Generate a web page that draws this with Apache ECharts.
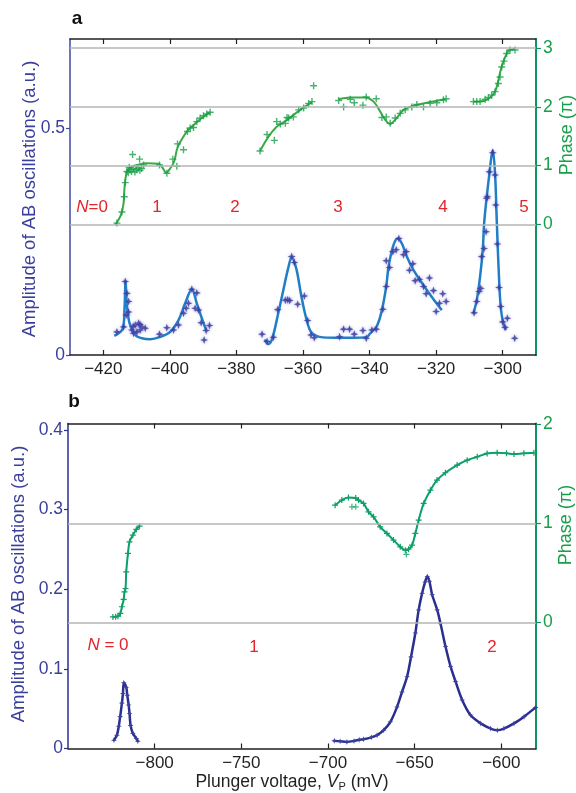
<!DOCTYPE html>
<html>
<head>
<meta charset="utf-8">
<style>html,body{margin:0;padding:0;background:#fff}#main{width:576px;height:793px}</style>
</head>
<body>
<div id="main"></div>
<script src="https://cdn.jsdelivr.net/npm/echarts@6/dist/echarts.min.js"></script>
<script>
// ---- panel a ----
var xTicksA = [-420, -400, -380, -360, -340, -320, -300];
var ampTicksA = [0, 0.5];
var phaseTicksA = [0, 1, 2, 3];
var levelLabelsA = ['{i|N}=0', '1', '2', '3', '4', '5'];

var ampPtsA = [
  [-415.9,0.051],[-413.9,0.062],[-413.4,0.162],[-412.9,0.136],[-412.4,0.118],[-413.1,0.088],[-412.4,0.095],
  [-411.4,0.055],[-410.4,0.066],[-409.4,0.070],[-408.9,0.055],[-410.9,0.048],[-408.4,0.062],[-407.4,0.059],
  [-409.9,0.051],[-411.0,0.063],[-409.0,0.067],[-403.1,0.046],[-400.9,0.060],[-398.9,0.055],[-397.4,0.066],
  [-395.9,0.092],[-395.1,0.103],[-394.4,0.114],[-393.4,0.145],[-391.9,0.137],[-392.4,0.103],[-391.4,0.099],
  [-390.6,0.071],[-389.7,0.033],[-389.1,0.054],[-388.1,0.065],
  [-372.3,0.046],[-370.8,0.030],[-368.9,0.039],[-367.6,0.100],[-365.3,0.121],[-364.6,0.122],[-364.0,0.120],
  [-363.4,0.217],[-362.6,0.204],[-361.6,0.112],[-359.6,0.130],[-358.6,0.076],[-357.6,0.044],[-356.6,0.038],
  [-349.0,0.040],[-347.8,0.057],[-346.0,0.057],[-344.6,0.046],[-342.0,0.054],[-341.0,0.037],[-339.3,0.055],
  [-338.0,0.057],[-336.0,0.101],[-335.0,0.151],[-335.0,0.208],[-334.0,0.193],[-333.0,0.228],[-332.0,0.232],
  [-331.2,0.257],[-329.8,0.221],[-329.0,0.228],[-328.0,0.187],[-327.0,0.201],[-326.3,0.164],[-325.0,0.167],
  [-323.8,0.151],[-323.0,0.135],[-322.0,0.170],[-320.8,0.142],[-320.0,0.096],[-319.0,0.114],[-318.0,0.135],
  [-317.0,0.118],
  [-308.6,0.093],[-307.8,0.118],[-307.1,0.140],[-306.6,0.147],[-306.3,0.217],[-305.6,0.235],[-305.0,0.272],
  [-304.8,0.346],[-304.6,0.349],[-304.0,0.404],[-303.0,0.446],[-302.3,0.397],[-302.1,0.331],[-301.6,0.245],
  [-301.1,0.149],[-300.6,0.107],[-300.0,0.073],[-299.3,0.061],[-298.6,0.081],[-296.4,0.037]
];
var ampFitA1 = [[-416.7,0.042],[-414.1,0.059],[-413.6,0.105],[-413.3,0.163],[-412.9,0.110],[-412.1,0.070],
  [-410.4,0.044],[-408.4,0.037],[-405.9,0.035],[-402.9,0.040],[-399.9,0.051],[-397.4,0.077],[-395.4,0.114],
  [-393.4,0.145],[-391.9,0.114],[-390.4,0.081],[-389.1,0.055]];
var ampFitA2 = [[-371.5,0.034],[-370.5,0.024],[-369.3,0.035],[-367.5,0.090],[-366,0.140],[-364.5,0.190],
  [-363.4,0.215],[-362,0.190],[-360.5,0.130],[-359,0.080],[-357.5,0.050],[-355,0.040],[-350,0.038],[-345,0.038],
  [-340.8,0.040],[-339.8,0.048],[-337.8,0.064],[-336.3,0.099],[-335,0.151],[-334.3,0.195],[-332.8,0.243],
  [-331.5,0.257],[-330.3,0.246],[-328.8,0.217],[-326.8,0.187],[-323.8,0.154],[-320.8,0.123],[-318.3,0.099]];
var ampFitA3 = [[-308.8,0.092],[-307.8,0.121],[-306.8,0.173],[-306,0.232],[-305.5,0.298],[-304.0,0.400],
  [-303,0.452],[-302.3,0.400],[-301.8,0.298],[-301,0.151],[-300.5,0.099],[-299.8,0.070],[-299,0.055]];

var phasePtsA = [
  [-415.9,0.02],[-414.4,0.21],[-413.7,0.47],[-413.4,0.71],[-412.9,0.90],[-412.5,0.88],[-412.0,0.93],[-411.5,0.90],
  [-411.0,0.95],[-410.5,0.89],[-410.0,0.93],[-409.5,0.96],[-409.0,0.92],[-408.5,0.95],[-412.2,0.97],[-411.2,1.19],
  [-409.1,1.11],[-407.9,1.01],[-403.1,1.01],[-400.9,0.87],[-399.1,1.11],[-397.9,0.99],[-397.7,1.37],[-395.9,1.27],
  [-394.7,1.58],[-393.9,1.64],[-392.9,1.65],[-391.9,1.75],[-390.9,1.81],[-389.9,1.85],[-388.9,1.88],[-387.9,1.91],
  [-372.9,1.25],[-370.8,1.53],[-368.6,1.43],[-367.9,1.75],[-366.8,1.71],[-365.3,1.72],[-364.8,1.82],[-364.3,1.81],
  [-362.9,1.83],[-361.3,1.95],[-359.8,1.98],[-358.3,2.06],[-357.3,2.09],[-356.8,2.36],
  [-349.3,2.11],[-347.8,2.00],[-345.8,2.13],[-344.6,2.07],[-342.0,2.03],[-341.0,2.17],[-338.0,2.14],[-336.3,1.82],
  [-335.0,1.83],[-333.8,1.72],[-332.3,1.81],[-330.8,1.89],[-329.3,1.95],[-327.3,2.00],[-325.8,2.04],[-323.8,2.00],
  [-321.8,2.06],[-319.8,2.07],[-317.8,2.12],[-317.0,2.14],
  [-308.8,2.09],[-307.8,2.09],[-306.8,2.09],[-305.3,2.13],[-304.3,2.16],[-303.3,2.20],[-302.3,2.26],[-301.3,2.40],
  [-300.8,2.51],[-300.3,2.68],[-299.6,2.78],[-298.8,2.91],[-297.8,2.97],[-296.3,2.97]
];
var phaseFitA1 = [[-416.4,-0.01],[-414.7,0.16],[-413.9,0.36],[-413.6,0.64],[-412.9,0.90],[-411.9,0.97],
  [-409.9,1.01],[-406.9,1.04],[-403.4,1.03],[-402.4,0.98],[-401.1,0.88],[-399.9,0.95],[-398.7,1.07],
  [-397.9,1.27],[-397.1,1.38],[-394.9,1.58],[-392.9,1.69],[-390.9,1.79],[-387.9,1.91]];
var phaseFitA2 = [[-372.9,1.25],[-370.4,1.49],[-367.9,1.66],[-364.8,1.78],[-360.8,1.95],[-357.3,2.08]];
var phaseFitA3 = [[-349.3,2.13],[-345.8,2.16],[-341.3,2.16],[-338.8,2.09],[-336.8,1.92],[-335.3,1.78],
  [-333.8,1.71],[-332.3,1.78],[-329.8,1.95],[-326.8,2.02],[-322.8,2.07],[-317.3,2.13]];
var phaseFitA4 = [[-308.8,2.09],[-305.8,2.10],[-303.8,2.16],[-302.3,2.26],[-301.3,2.46],[-300.6,2.63],
  [-299.6,2.80],[-298.3,2.95],[-296.3,2.99]];

// ---- panel b ----
var xTicksB = [-800, -750, -700, -650, -600];
var ampTicksB = [0, 0.1, 0.2, 0.3, 0.4];
var phaseTicksB = [0, 1, 2];
var levelLabelsB = ['{i|N} = 0', '1', '2'];

var ampB0 = [[-823.5,0.0104],[-821.8,0.0167],[-820.7,0.028],[-819.9,0.040],[-818.9,0.057],[-818.3,0.069],
  [-817.8,0.0825],[-816.4,0.077],[-815.8,0.067],[-815.0,0.0545],[-814.5,0.044],[-813.9,0.029],[-812.6,0.019],
  [-810.6,0.0126],[-809.7,0.009]];
var ampB1 = [[-696.4,0.0096],[-693,0.009],[-689.1,0.0083],[-685,0.0095],[-682,0.011],[-679.5,0.0117],[-675,0.014],
  [-671.7,0.0167],[-667.9,0.023],[-664,0.0335],[-660.2,0.052],[-657.3,0.071],[-654.4,0.090],[-652.1,0.115],
  [-649.6,0.145],[-647.7,0.174],[-645.7,0.195],[-644,0.209],[-642.7,0.216],[-641.5,0.210],[-639.9,0.193],
  [-637,0.174],[-635.1,0.157],[-632.2,0.128],[-629.3,0.103],[-626.4,0.084],[-622.6,0.061],[-617.8,0.042],
  [-611.9,0.0315],[-606.2,0.025],[-602.3,0.023],[-598.5,0.025],[-592.7,0.0315],[-586.9,0.040],[-580.2,0.0516]];
var phaseB0 = [[-824.1,0.058],[-822.5,0.060],[-821.2,0.065],[-819.8,0.093],[-818.9,0.160],[-817.9,0.234],
  [-817.4,0.310],[-816.8,0.344],[-816.4,0.511],[-815.4,0.697],[-814.5,0.814],[-812.6,0.881],[-810.6,0.939],
  [-808.7,0.972]];
var phaseB1 = [[-695.9,1.183],[-692,1.234],[-688.2,1.26],[-684,1.255],[-682.4,1.234],[-679.5,1.20],[-676.6,1.116],
  [-673.7,1.065],[-669.9,0.965],[-666,0.898],[-662.2,0.831],[-658.3,0.763],[-655.4,0.730],[-653.5,0.740],
  [-651.5,0.780],[-649.6,0.898],[-647.7,1.032],[-644.8,1.20],[-640.9,1.334],[-637.1,1.435],[-632.3,1.509],
  [-625.5,1.586],[-619.7,1.636],[-613.9,1.670],[-608.2,1.704],[-602.4,1.710],[-597,1.705],[-592.7,1.697],
  [-587,1.705],[-581.2,1.710]];
var phaseB1Extra = [[-686.2,1.166],[-684,1.166],[-654.8,0.687]];

// ---- styling ----
var FONT = 'Liberation Sans, Arial, Helvetica, sans-serif';
var BLUE_AX = '#3a3f9c', GREEN_AX = '#0e9460', GREEN_TXT = '#17a04b', RED = '#e2262b';
var PLUS = 'path://M-1,-5H1V-1H5V1H1V5H-1V1H-5V-1H-1Z';
var STAR = 'path://M0,-5L1.3,-1.3L5,0L1.3,1.3L0,5L-1.3,1.3L-5,0L-1.3,-1.3Z';
var minus = function (v) { return String(v).replace('-', '\u2212'); };

function xAx(grid, min, max, ticks, pos) {
  return {
    type: 'value', gridIndex: grid, min: min, max: max, position: pos,
    axisLine: {onZero: false, lineStyle: {color: '#231f20', width: 1.5}},
    axisTick: {inside: true, length: 5, customValues: ticks, lineStyle: {color: '#231f20', width: 1.2}},
    axisLabel: {show: pos === 'bottom', customValues: ticks, formatter: minus, fontFamily: FONT,
      fontSize: 17, color: '#231f20', margin: 6},
    splitLine: {show: false}
  };
}
function yAx(grid, min, max, ticks, pos, lineColor, txtColor) {
  return {
    type: 'value', gridIndex: grid, min: min, max: max, position: pos,
    axisLine: {onZero: false, lineStyle: {color: lineColor, width: pos === 'right' ? 2 : 1.5}},
    axisTick: {inside: false, length: pos === 'right' ? 5 : 4, customValues: ticks, lineStyle: {color: lineColor, width: 1.2}},
    axisLabel: {customValues: ticks, fontFamily: FONT, fontSize: 17.5, color: txtColor, margin: pos === 'right' ? 7 : 5},
    splitLine: {show: false}
  };
}

var series = [];
function gridLines(xi, yi, vals) {
  series.push({type: 'line', xAxisIndex: xi, yAxisIndex: yi, data: [], silent: true, z: 1,
    markLine: {silent: true, symbol: 'none', label: {show: false},
      lineStyle: {color: '#b4b4b4', width: 1.5, type: 'solid'},
      data: vals.map(function (v) { return {yAxis: v}; })}});
}
function fit(xi, yi, d, color, w, smooth) {
  series.push({type: 'line', xAxisIndex: xi, yAxisIndex: yi, data: d, showSymbol: false, smooth: smooth,
    lineStyle: {color: color, width: w}, z: 3});
}
function pts(xi, yi, d, sym, size, color, halo) {
  series.push({type: 'scatter', xAxisIndex: xi, yAxisIndex: yi, data: d, symbol: sym, symbolSize: size,
    itemStyle: {color: color, shadowBlur: halo ? 3 : 0, shadowColor: halo || 'transparent'}, z: 4});
}

// panel a
gridLines(0, 1, phaseTicksA);
pts(0, 0, ampPtsA, STAR, 8, '#37379a', 'rgba(110,110,210,0.9)');
[ampFitA1, ampFitA2, ampFitA3].forEach(function (d) { fit(0, 0, d, '#1f7fc6', 2.5, 0.35); });
[phaseFitA1, phaseFitA2, phaseFitA3, phaseFitA4].forEach(function (d) { fit(0, 1, d, '#3ea846', 2, 0.35); });
pts(0, 1, phasePtsA, PLUS, 7, '#16a04a');

// panel b
gridLines(2, 3, [0, 1]);
[ampB0, ampB1].forEach(function (d) {
  series.push({type: 'line', xAxisIndex: 2, yAxisIndex: 2, data: d, smooth: 0.3, symbol: STAR, symbolSize: 6,
    showSymbol: true, itemStyle: {color: '#3c3fa0'}, lineStyle: {color: '#2a2f8e', width: 2.5}, z: 3});
});
[phaseB0, phaseB1].forEach(function (d) {
  series.push({type: 'line', xAxisIndex: 2, yAxisIndex: 3, data: d, smooth: 0.3, symbol: PLUS, symbolSize: 6,
    showSymbol: true, itemStyle: {color: '#11a064'}, lineStyle: {color: '#0b9e6e', width: 2}, z: 3});
});
pts(2, 3, phaseB1Extra, PLUS, 6, '#11a064');

function txt(x, y, text, size, color, extra) {
  var o = {type: 'text', x: x, y: y, z: 10,
    style: {text: text, font: size + 'px ' + FONT, fill: color, align: 'center', verticalAlign: 'middle',
      rich: {i: {fontStyle: 'italic', fontSize: size, fontFamily: FONT, fill: color}}}};
  if (extra) { for (var k in extra) o[k] = extra[k]; }
  return o;
}
var graphics = [
  txt(77, 19, 'a', 19, '#111', {style: {text: 'a', font: 'bold 19px ' + FONT, fill: '#111', align: 'center', verticalAlign: 'middle'}}),
  txt(74, 402, 'b', 19, '#111', {style: {text: 'b', font: 'bold 19px ' + FONT, fill: '#111', align: 'center', verticalAlign: 'middle'}}),
  txt(30, 199, 'Amplitude of AB oscillations (a.u.)', 18.5, BLUE_AX, {rotation: Math.PI / 2}),
  txt(19, 584, 'Amplitude of AB oscillations (a.u.)', 18.5, BLUE_AX, {rotation: Math.PI / 2}),
  txt(567, 135, 'Phase (\u03c0)', 18, GREEN_TXT, {rotation: Math.PI / 2}),
  txt(566, 525, 'Phase (\u03c0)', 18, GREEN_TXT, {rotation: Math.PI / 2}),
  {type: 'text', x: 292, y: 782, z: 10, style: {
    text: '{n|Plunger voltage, }{i|V}{s|P}{n| (mV)}', align: 'center', verticalAlign: 'middle',
    rich: {n: {fontSize: 17.5, fontFamily: FONT, fill: '#231f20', lineHeight: 20},
      i: {fontSize: 17.5, fontFamily: FONT, fontStyle: 'italic', fill: '#231f20', lineHeight: 20},
      s: {fontSize: 11, fontFamily: FONT, fill: '#231f20', lineHeight: 20, verticalAlign: 'bottom', padding: [8, 0, 0, 0]}}}}
];
var posA = [[92, 207], [157, 207], [235, 207], [338, 207], [443, 207], [524, 207]];
levelLabelsA.forEach(function (t, i) { graphics.push(txt(posA[i][0], posA[i][1], t, 17, RED)); });
var posB = [[108, 645], [254, 647], [492, 647]];
levelLabelsB.forEach(function (t, i) { graphics.push(txt(posB[i][0], posB[i][1], t, 17, RED)); });

var chart = echarts.init(document.getElementById('main'), null, {renderer: 'canvas'});
chart.setOption({
  animation: false,
  backgroundColor: '#fff',
  grid: [
    {left: 70, right: 40, top: 39, height: 316},
    {left: 68, right: 40, top: 423.5, height: 325}
  ],
  xAxis: [
    xAx(0, -430, -290, xTicksA, 'bottom'),
    xAx(0, -430, -290, xTicksA, 'top'),
    xAx(1, -850, -580, xTicksB, 'bottom'),
    xAx(1, -850, -580, xTicksB, 'top')
  ],
  yAxis: [
    yAx(0, 0, 0.697, ampTicksA, 'left', '#3f47a6', BLUE_AX),
    yAx(0, -2.227, 3.157, phaseTicksA, 'right', GREEN_AX, GREEN_TXT),
    yAx(1, 0, 0.408, ampTicksB, 'left', '#2b2f8c', BLUE_AX),
    yAx(1, -1.267, 2.005, phaseTicksB, 'right', GREEN_AX, GREEN_TXT)
  ],
  series: series,
  graphic: graphics
});
</script>
</body>
</html>
